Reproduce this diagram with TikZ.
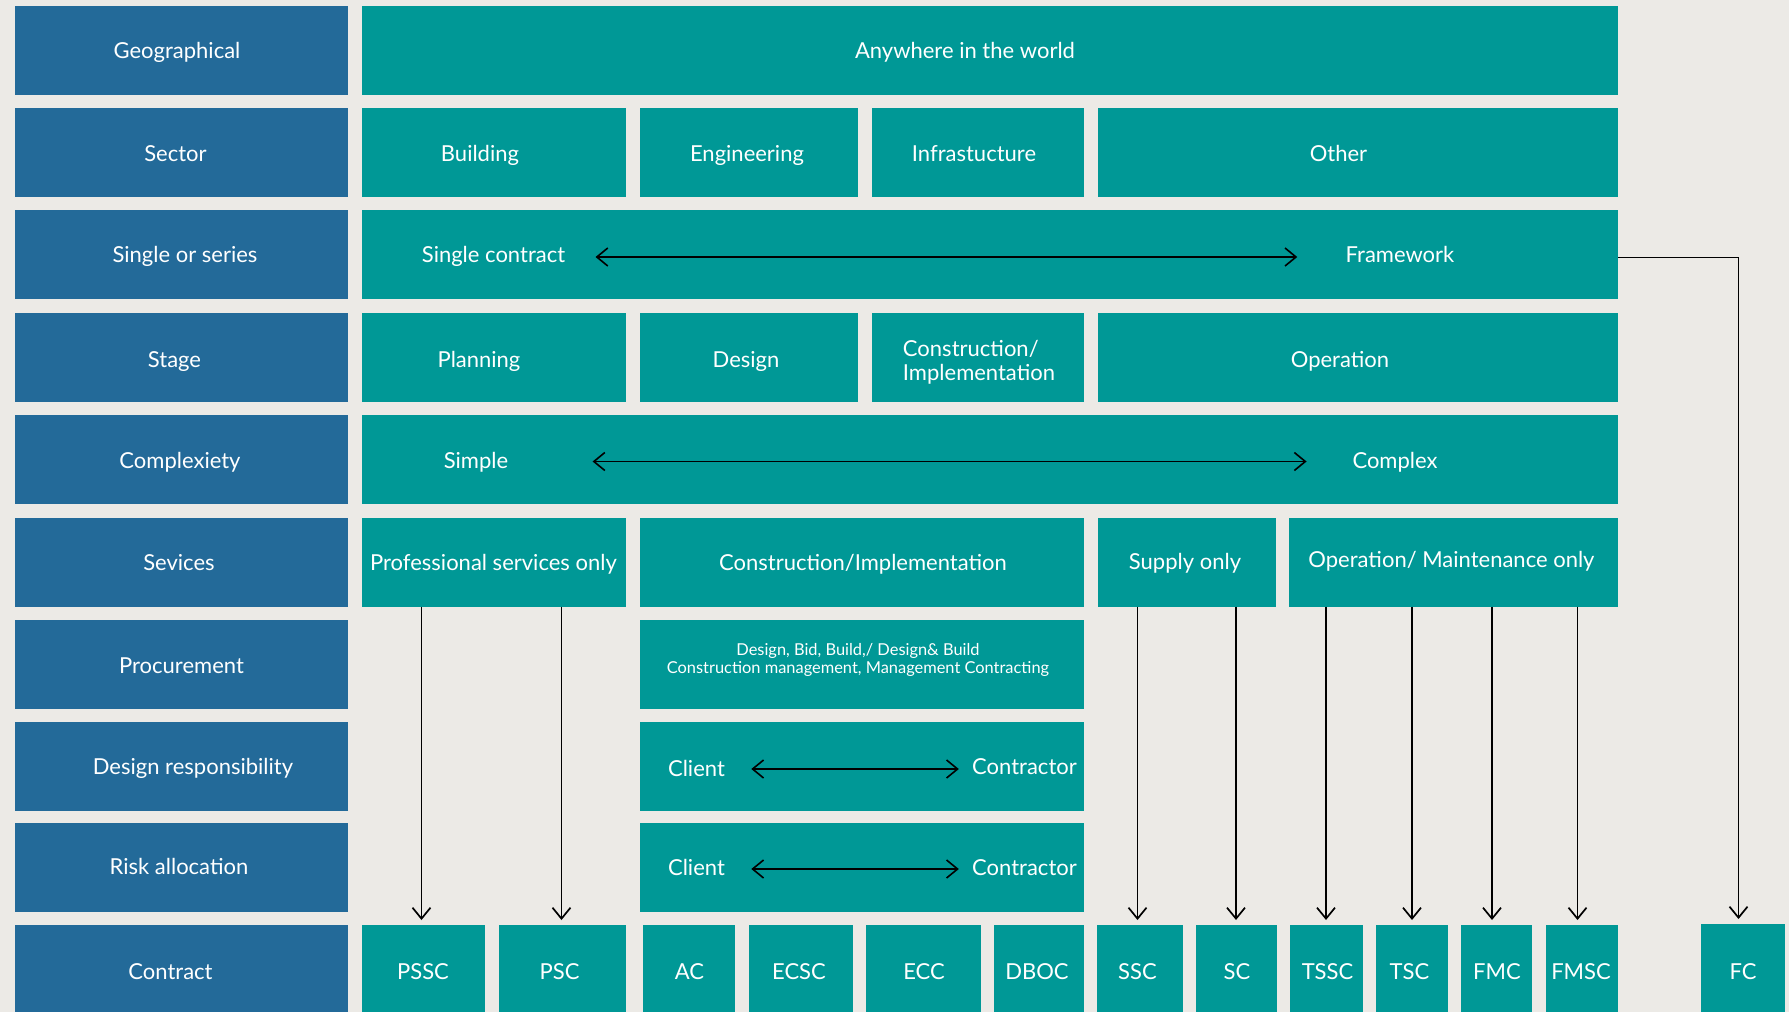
\documentclass[tikz,border=0pt]{standalone}
\usepackage{fontspec}
\setmainfont{Lato}
\usetikzlibrary{arrows.meta,calc}

\definecolor{bgcol}{RGB}{236,234,230}
\definecolor{catblue}{RGB}{35,106,153}
\definecolor{optteal}{RGB}{0,152,150}

\tikzset{
  cell/.style={rectangle, inner sep=0pt, outer sep=0pt, minimum height=44.5pt},
  catbox/.style={cell, fill=catblue, minimum width=166.5pt},
  optbox/.style={cell, fill=optteal, minimum width=#1pt},
  txt/.style={inner sep=0pt, text=white, font=\fontsize{11}{13}\selectfont, text height=7.9pt, text depth=0pt},
  twoline/.style={inner sep=0pt, text=white, font=\fontsize{11}{11.75}\selectfont},
  smalltxt/.style={inner sep=0pt, text=white, align=center, font=\fontsize{8.2}{9}\selectfont},
  flow/.style={draw=black, line width=0.85pt, shorten >=2.5pt, -{Straight Barb[length=5.5pt,width=9pt]}},
  span/.style={draw=black, line width=0.8pt, {Straight Barb[length=5.5pt,width=9pt]}-{Straight Barb[length=5.5pt,width=9pt]}}
}

\begin{document}
\begin{tikzpicture}[x=0.5pt,y=-0.5pt]
\useasboundingbox (0,0) rectangle (1789,1012);
\fill[bgcol] (0,0) rectangle (1789,1012);

% category column
\node[catbox] (b-geo) at (181.5,50.5) {};
\node[catbox] (b-sector) at (181.5,152.5) {};
\node[catbox] (b-series) at (181.5,254.5) {};
\node[catbox] (b-stage) at (181.5,357.5) {};
\node[catbox] (b-complex) at (181.5,459.5) {};
\node[catbox] (b-services) at (181.5,562) {};
\node[catbox] (b-procure) at (181.5,664.5) {};
\node[catbox] (b-design) at (181.5,766) {};
\node[catbox] (b-risk) at (181.5,867.5) {};
\node[catbox] (b-contract) at (181.5,969.5) {};

% option boxes
\node[optbox=628] (o-world) at (990,50.5) {};
\node[optbox=132] (o-building) at (494,152.5) {};
\node[optbox=109] (o-engineering) at (749,152.5) {};
\node[optbox=106] (o-infra) at (978,152.5) {};
\node[optbox=260] (o-other) at (1358,152.5) {};
\node[optbox=628] (o-series) at (990,254.5) {};
\node[optbox=132] (o-planning) at (494,357.5) {};
\node[optbox=109] (o-designstage) at (749,357.5) {};
\node[optbox=106] (o-construction) at (978,357.5) {};
\node[optbox=260] (o-operation) at (1358,357.5) {};
\node[optbox=628] (o-complex) at (990,459.5) {};
\node[optbox=132] (o-prof) at (494,562) {};
\node[optbox=222] (o-constimpl) at (862,562) {};
\node[optbox=89] (o-supply) at (1187,562) {};
\node[optbox=164.5] (o-opmaint) at (1453.5,562) {};
\node[optbox=222] (o-procure) at (862,664.5) {};
\node[optbox=222] (o-design) at (862,766) {};
\node[optbox=222] (o-risk) at (862,867.5) {};

% contract boxes
\node[optbox=61.5] (c-pssc) at (423.5,969.5) {};
\node[optbox=63.5] (c-psc) at (562.5,969.5) {};
\node[optbox=46.25] (c-ac) at (689,969.5) {};
\node[optbox=52] (c-ecsc) at (800.5,969.5) {};
\node[optbox=57.5] (c-ecc) at (923.3,969.5) {};
\node[optbox=45.25] (c-dboc) at (1039,969.5) {};
\node[optbox=42.75] (c-ssc) at (1140,969.5) {};
\node[optbox=40.5] (c-sc) at (1236,969.5) {};
\node[optbox=36.5] (c-tssc) at (1326,969.5) {};
\node[optbox=35.75] (c-tsc) at (1412,969.5) {};
\node[optbox=35.5] (c-fmc) at (1496.5,969.5) {};
\node[optbox=36] (c-fmsc) at (1582,969.5) {};
\node[optbox=42] (c-fc) at (1743,968.5) {};

% Text Node
\node[txt] (t-geo) at (177,51) {Geographical};
\node[txt] (t-sector) at (175.5,153.5) {Sector};
\node[txt] (t-series) at (185,254.5) {Single or series};
\node[txt] (t-stage) at (174.5,359.5) {Stage};
\node[txt] (t-complex) at (180,460.5) {Complexiety};
\node[txt] (t-services) at (179,563) {Sevices};
\node[txt] (t-procure) at (181.5,666) {Procurement};
\node[txt] (t-design) at (193,766.5) {Design responsibility};
\node[txt] (t-risk) at (179,867) {Risk allocation};
\node[txt] (t-contract) at (170.5,971.5) {Contract};

\node[txt] (t-world) at (965,51) {Anywhere in the world};
\node[txt] (t-building) at (480,153.5) {Building};
\node[txt] (t-engineering) at (747,153.5) {Engineering};
\node[txt] (t-infra) at (974,153.5) {Infrastucture};
\node[txt] (t-other) at (1338.5,153.5) {Other};
\node[txt] (t-single) at (493.5,254.5) {Single contract};
\node[txt] (t-framework) at (1400,254.5) {Framework};
\node[txt] (t-planning) at (479,359.5) {Planning};
\node[txt] (t-designstage) at (746,359.5) {Design};
\node[twoline, align=left] (t-construction) at (979,362.5) {Construction/\\Implementation};
\node[txt] (t-operation) at (1340,359.5) {Operation};
\node[txt] (t-simple) at (476,460.5) {Simple};
\node[txt] (t-complexopt) at (1395,460.5) {Complex};
\node[txt] (t-prof) at (493.5,563) {Professional services only};
\node[txt] (t-constimpl) at (863,563) {Construction/Implementation};
\node[txt] (t-supply) at (1185,562) {Supply only};
\node[txt] (t-opmaint) at (1451.5,559.5) {Operation/ Maintenance only};
\node[smalltxt] (t-procureopt) at (858,660) {Design, Bid, Build,/ Design\& Build\\Construction management, Management Contracting};
\node[txt] (t-client1) at (696.5,769) {Client};
\node[txt] (t-contractor1) at (1024.5,766.5) {Contractor};
\node[txt] (t-client2) at (696.5,867.5) {Client};
\node[txt] (t-contractor2) at (1024.5,867.5) {Contractor};

\node[txt] (t-pssc) at (423,972) {PSSC};
\node[txt] (t-psc) at (559.5,972) {PSC};
\node[txt] (t-ac) at (689.5,972) {AC};
\node[txt] (t-ecsc) at (799,972) {ECSC};
\node[txt] (t-ecc) at (924,972) {ECC};
\node[txt] (t-dboc) at (1037,972) {DBOC};
\node[txt] (t-ssc) at (1137.5,972) {SSC};
\node[txt] (t-sc) at (1237,972) {SC};
\node[txt] (t-tssc) at (1327.5,972) {TSSC};
\node[txt] (t-tsc) at (1409.5,972) {TSC};
\node[txt] (t-fmc) at (1497,972) {FMC};
\node[txt] (t-fmsc) at (1581,972) {FMSC};
\node[txt] (t-fc) at (1743,972) {FC};

% two-way scales
\draw[span, shorten <=15pt, shorten >=24pt] ($(t-single.east)+(0,2.5)$) -- ($(t-single.east -| t-framework.west)+(0,2.5)$);
\draw[span, shorten <=42pt, shorten >=22.75pt] ($(t-simple.east)+(0,1)$) -- ($(t-simple.east -| t-complexopt.west)+(0,1)$);
\draw[span, shorten <=13pt, shorten >=6.5pt] (t-client1.east) -- (t-client1.east -| t-contractor1.west);
\draw[span, shorten <=13pt, shorten >=6.5pt] ($(t-client2.east)+(0,1.5)$) -- ($(t-client2.east -| t-contractor2.west)+(0,1.5)$);

% services to contracts
\draw[flow] ($(o-prof.south -| c-pssc.north)+(-2,0)$) -- ($(c-pssc.north)+(-2,0)$);
\draw[flow] ($(o-prof.south -| c-psc.north)+(-1,0)$) -- ($(c-psc.north)+(-1,0)$);
\draw[flow] ($(o-supply.south -| c-ssc.north)+(-2.5,0)$) -- ($(c-ssc.north)+(-2.5,0)$);
\draw[flow] (o-supply.south -| c-sc.north) -- (c-sc.north);
\draw[flow] (o-opmaint.south -| c-tssc.north) -- (c-tssc.north);
\draw[flow] (o-opmaint.south -| c-tsc.north) -- (c-tsc.north);
\draw[flow] ($(o-opmaint.south -| c-fmc.north)+(-4.5,0)$) -- ($(c-fmc.north)+(-4.5,0)$);
\draw[flow] ($(o-opmaint.south -| c-fmsc.north)+(-4.5,0)$) -- ($(c-fmsc.north)+(-4.5,0)$);
\draw[flow] ($(o-series.east)+(0,3)$) -| ($(c-fc.north)+(-4.5,0)$);

\end{tikzpicture}
\end{document}
